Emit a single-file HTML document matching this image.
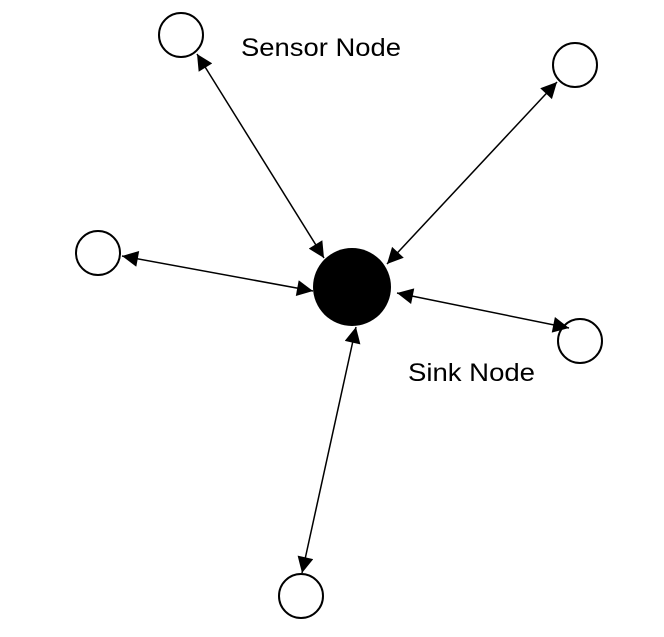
<!DOCTYPE html>
<html><head><style>html,body{margin:0;padding:0;background:#fff}</style></head>
<body>
<svg width="664" height="632" viewBox="0 0 664 632" xmlns="http://www.w3.org/2000/svg">
<defs>
<marker id="a" viewBox="0 0 10 10" refX="10" refY="5" markerWidth="22" markerHeight="16" markerUnits="userSpaceOnUse" orient="auto-start-reverse">
<path d="M0,0 L10,5 L0,10 z" fill="#000"/>
</marker>
</defs>
<g fill="none" stroke="#000" stroke-width="2">
<circle cx="181" cy="35" r="22"/>
<circle cx="575" cy="65" r="22"/>
<circle cx="98" cy="253" r="22"/>
<circle cx="580" cy="341" r="22"/>
<circle cx="301" cy="596" r="22"/>
</g>
<circle cx="352" cy="287" r="39" fill="#000"/>
<g stroke="#000" stroke-width="1.5" marker-start="url(#a)" marker-end="url(#a)">
<line x1="197" y1="54" x2="324" y2="258"/>
<line x1="557" y1="82" x2="387" y2="264"/>
<line x1="122" y1="256" x2="313" y2="291"/>
<line x1="397" y1="293" x2="569" y2="328"/>
<line x1="356" y1="327" x2="302" y2="573"/>
</g>
<g font-family="Liberation Sans, sans-serif" font-size="25" fill="#000">
<text x="241" y="56" textLength="160" lengthAdjust="spacingAndGlyphs">Sensor Node</text>
<text x="408" y="381" textLength="127" lengthAdjust="spacingAndGlyphs">Sink Node</text>
</g>
</svg>
</body></html>
